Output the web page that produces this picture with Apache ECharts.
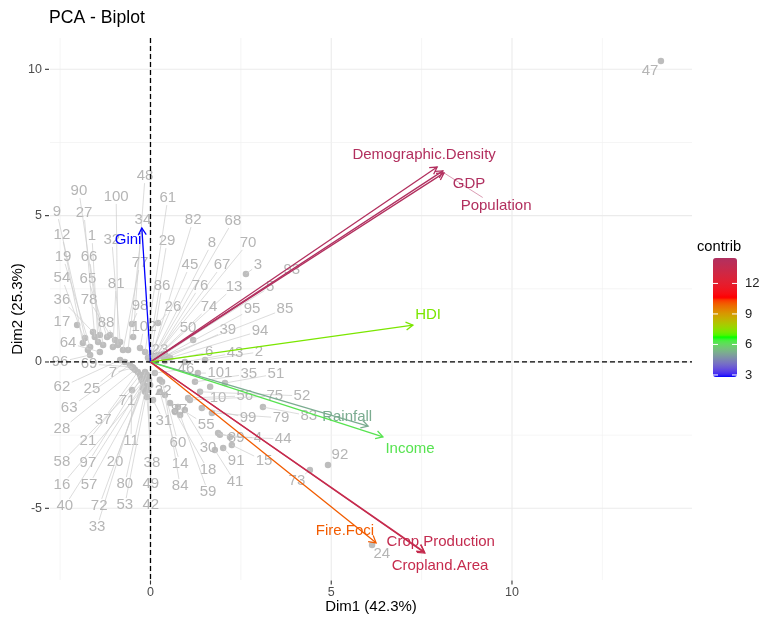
<!DOCTYPE html>
<html><head><meta charset="utf-8">
<script src="https://cdn.jsdelivr.net/npm/echarts@6/dist/echarts.min.js"></script>
<style>html,body{margin:0;padding:0;background:#fff}#c{width:770px;height:617px}</style>
</head><body><div id="c"></div>
<script>
// ---------- data ----------
const indIds = [1,2,3,4,5,6,7,8,9,10,11,12,13,14,15,16,17,18,19,20,21,22,23,24,25,26,27,28,29,30,
31,32,33,34,35,36,37,38,39,40,41,42,43,44,45,46,47,48,49,50,51,52,53,54,55,56,57,58,59,60,
61,62,63,64,65,66,67,68,69,70,71,72,73,74,75,76,77,78,79,80,81,82,83,84,85,86,87,88,89,90,
91,92,93,94,95,96,97,98,99,100,101,102];
const indDim1 = [
-1.45, 1.51, 2.64, 1.92, 0.32, 0.40, -0.48, 0.04, -1.81, 1.65,
-0.51, -1.87, 0.18, 0.26, 2.25, -0.15, -2.03, 0.68, -1.67, -0.18,
-0.29, 0.26, 0.12, 6.13, -0.71, 0.21, -1.54, -0.43, -0.07, 0.95,
0.07, -0.84, -0.15, -0.62, 1.23, -1.59, -0.35, -0.10, 0.48, -0.12,
1.78, -0.01, 0.95, 2.20, -0.01, 0.12, 14.12, -0.48, -0.07, 1.18,
2.06, 1.37, -0.04, -1.73, 0.76, 1.04, -0.21, -0.24, 0.82, 0.32,
-0.15, -0.84, -0.57, -1.40, -1.20, -1.31, 0.10, 0.07, -0.51, 0.12,
-0.21, -0.10, 4.41, 0.21, 1.09, 0.15, -0.76, -1.12, 1.70, -0.15,
-1.04, 0.04, 3.11, 0.40, 0.40, -0.01, 0.54, -0.98, 1.87, -1.40,
2.01, 4.91, 0.40, 0.54, 0.35, -1.67, -0.26, -0.51, 1.42, -0.90,
1.31, -0.29];
const indDim2 = [
0.68, 0.07, 3.01, -2.49, 0.24, 0.03, -0.20, 0.10, 0.82, -0.85,
-0.96, 0.65, 0.17, -1.02, -2.84, -0.82, 1.26, -1.71, 0.51, -0.79,
-0.44, -0.61, 0.07, -6.25, 0.00, 1.33, 0.85, -0.27, 0.14, -1.64,
-1.30, 0.68, -0.34, 0.41, -0.68, 1.02, -0.34, -1.20, 0.17, -0.55,
-3.01, -0.79, 0.00, -2.56, 0.17, -0.38, 10.28, 0.85, -0.96, 0.75,
-0.72, -1.02, -0.61, 0.41, -1.54, -1.23, -0.89, -0.61, -1.81, -0.68,
0.34, 0.07, -0.10, 0.34, 0.85, 0.58, 0.14, 0.14, -0.17, 0.17,
-0.68, -0.44, -3.69, 0.24, -1.30, 0.20, 0.41, 0.92, -1.74, -1.02,
0.51, 0.20, -1.54, -1.13, 0.20, 0.07, -1.40, 0.75, -2.43, 0.92,
-2.94, -3.52, 0.27, 0.14, 0.17, 0.24, -0.55, 1.30, -1.57, 0.58,
-0.38, 0.48];
// repelled label anchor positions (data units)
const labDim1 = [
-1.62, 3.00, 2.97, 2.97, 3.31, 1.62, -1.04, 1.70, -2.59, 1.87,
-0.54, -2.45, 2.31, 0.82, 3.14, -2.45, -2.45, 1.59, -2.42, -0.98,
-1.73, 0.35, 0.26, 6.40, -1.62, 0.62, -1.84, -2.45, 0.46, 1.59,
0.37, -1.07, -1.48, -0.21, 2.72, -2.45, -1.31, 0.04, 2.14, -2.37,
2.34, 0.01, 2.34, 3.67, 1.09, 0.98, 13.82, -0.15, 0.01, 1.04,
3.47, 4.19, -0.71, -2.45, 1.54, 2.61, -1.70, -2.45, 1.59, 0.76,
0.48, -2.45, -2.25, -2.28, -1.73, -1.70, 1.98, 2.28, -1.70, 2.70,
-0.65, -1.42, 4.05, 1.62, 3.44, 1.37, -0.29, -1.70, 3.61, -0.71,
-0.95, 1.18, 4.38, 0.82, 3.72, 0.32, 0.79, -1.23, 2.37, -1.98,
2.37, 5.24, 3.91, 3.03, 2.81, -2.50, -1.73, -0.29, 2.70, -0.95,
1.92, -0.18];
const labDim2 = [
4.30, 0.34, 3.31, -2.60, 2.56, 0.34, -0.38, 4.07, 5.12, -1.23,
-2.70, 4.34, 2.56, -3.48, -3.38, -4.20, 1.37, -3.69, 3.59, -3.42,
-2.70, -0.99, 0.41, -6.56, -0.92, 1.88, 5.09, -2.29, 4.13, -2.94,
-2.02, 4.17, -5.64, 4.85, -0.41, 2.12, -1.98, -3.45, 1.09, -4.92,
-4.10, -4.89, 0.31, -2.63, 3.31, -0.24, 9.94, 6.35, -4.17, 1.16,
-0.41, -1.16, -4.89, 2.87, -2.15, -1.16, -4.20, -3.42, -4.44, -2.77,
5.60, -0.85, -1.57, 0.65, 2.84, 3.59, 3.31, 4.82, -0.07, 4.07,
-1.33, -4.92, -4.07, 1.88, -1.16, 2.60, 3.38, 2.12, -1.91, -4.17,
2.66, 4.85, -1.84, -4.24, 1.81, 2.60, -1.64, 1.33, -2.60, 5.84,
-3.38, -3.18, 3.14, 1.06, 1.81, 0.00, -3.45, 1.91, -1.91, 5.64,
-0.38, 1.20];

const varNames   = ['Demographic.Density','GDP','Population','HDI','Gini','Rainfall','Income','Fire.Foci','Crop.Production','Cropland.Area'];
const varDim1    = [7.93, 8.09, 8.12, 7.26, -0.24, 6.02, 6.43, 6.24, 7.59, 7.57];
const varDim2    = [6.66, 6.53, 6.46, 1.26, 4.58, -2.19, -2.56, -6.18, -6.53, -6.49];
const varContrib = [14.4, 14.5, 14.4, 7.3, 2.8, 5.2, 6.2, 10.0, 13.6, 13.5];
const varLabDim1 = [7.57, 8.81, 9.56, 7.68, -0.62, 5.44, 7.18, 5.38, 8.03, 8.01];
const varLabDim2 = [7.07, 6.08, 5.33, 1.61, 4.17, -1.88, -2.97, -5.77, -6.15, -6.97];

const xTicks = [0, 5, 10];
const yTicks = [-5, 0, 5, 10];
const xMinorGrid = [-2.5, 2.5, 7.5, 12.5];
const yMinorGrid = [-2.5, 2.5, 7.5];
const legendTicks = [3, 6, 9, 12];
const contribMin = 2.8, contribMax = 14.5;

// ---------- styling / layout ----------
const FONT = '"Liberation Sans", Arial, sans-serif';
const gradientAnchors = ['#0000FF', '#00FF00', '#FF0000', '#B03060'];
const LEG = {left: 713, top: 258, w: 24, h: 119};

// Lab interpolation (like ggplot2 gradientn)
function lin(c){c/=255;return c<=0.04045?c/12.92:Math.pow((c+0.055)/1.055,2.4);}
function gam(c){const v=c<=0.0031308?12.92*c:1.055*Math.pow(c,1/2.4)-0.055;return Math.max(0,Math.min(255,Math.round(v*255)));}
function fL(t){return t>0.008856?Math.cbrt(t):7.787*t+16/116;}
function fInv(t){const t3=t*t*t;return t3>0.008856?t3:(t-16/116)/7.787;}
const Xn=0.95047,Zn=1.08883;
function hex2lab(h){
  const r=lin(parseInt(h.slice(1,3),16)),g=lin(parseInt(h.slice(3,5),16)),b=lin(parseInt(h.slice(5,7),16));
  const X=(0.4124564*r+0.3575761*g+0.1804375*b)/Xn, Y=(0.2126729*r+0.7151522*g+0.0721750*b), Z=(0.0193339*r+0.1191920*g+0.9503041*b)/Zn;
  const fx=fL(X),fy=fL(Y),fz=fL(Z);
  return [116*fy-16,500*(fx-fy),200*(fy-fz)];
}
function lab2rgb(l){
  const fy=(l[0]+16)/116, fx=fy+l[1]/500, fz=fy-l[2]/200;
  const X=fInv(fx)*Xn, Y=fInv(fy), Z=fInv(fz)*Zn;
  const R=3.2404542*X-1.5371385*Y-0.4985314*Z, G=-0.9692660*X+1.8760108*Y+0.0415560*Z, B=0.0556434*X-0.2040259*Y+1.0572252*Z;
  return 'rgb('+gam(R)+','+gam(G)+','+gam(B)+')';
}
const labs = gradientAnchors.map(hex2lab);
const rampColors = [];
const NSTEP = 60;
for (let i = 0; i <= NSTEP; i++) {
  const t = i / NSTEP * (labs.length - 1);
  const k = Math.min(Math.floor(t), labs.length - 2), f = t - k;
  const a = labs[k], b = labs[k+1];
  rampColors.push(lab2rgb([a[0]+(b[0]-a[0])*f, a[1]+(b[1]-a[1])*f, a[2]+(b[2]-a[2])*f]));
}

const mctx = document.createElement('canvas').getContext('2d');
function textW(s, size){ mctx.font = size + 'px ' + FONT; return mctx.measureText(s).width; }
function clipSeg(p, l, hw, hh, thr){
  const dx = p[0]-l[0], dy = p[1]-l[1];
  const t = Math.min(dx ? hw/Math.abs(dx) : Infinity, dy ? hh/Math.abs(dy) : Infinity);
  if (t >= 1) return null;
  const e = [l[0]+dx*t, l[1]+dy*t];
  if (Math.hypot(p[0]-e[0], p[1]-e[1]) < thr) return null;
  return {x1:p[0], y1:p[1], x2:e[0], y2:e[1]};
}

const chart = echarts.init(document.getElementById('c'), null, {renderer:'canvas'});

function gridV(major){
  return function(params, api){
    const cs = params.coordSys, x = api.coord([api.value(0), 0])[0];
    return {type:'line', silent:true, shape:{x1:x, y1:cs.y, x2:x, y2:cs.y+cs.height},
      style:{stroke: major ? '#ebebeb' : '#f1f1f1', lineWidth: major ? 1.1 : 0.7}};
  };
}
function gridH(major){
  return function(params, api){
    const cs = params.coordSys, y = api.coord([0, api.value(1)])[1];
    return {type:'line', silent:true, shape:{x1:cs.x, y1:y, x2:cs.x+cs.width, y2:y},
      style:{stroke: major ? '#ebebeb' : '#f1f1f1', lineWidth: major ? 1.1 : 0.7}};
  };
}
const TICK_STYLE = {stroke:'#333', lineWidth:1.1};
function tickX(params, api){
  const cs = params.coordSys, x = api.coord([api.value(0), 0])[0], y0 = cs.y + cs.height;
  return {type:'line', silent:true, shape:{x1:x, y1:y0+0.5, x2:x, y2:y0+4.5}, style:TICK_STYLE};
}
function tickY(params, api){
  const cs = params.coordSys, y = api.coord([0, api.value(1)])[1];
  return {type:'line', silent:true, shape:{x1:cs.x-5, y1:y, x2:cs.x-1, y2:y}, style:TICK_STYLE};
}

const IND_FS = 15, VAR_FS = 15;

const legendGraphics = [
  {type:'text', left: 697, top: 239, style:{text:'contrib', font: '14.7px ' + FONT, fill:'#000'}}
];
legendTicks.forEach(v => {
  const y = LEG.top + (contribMax - v) / (contribMax - contribMin) * LEG.h;
  legendGraphics.push({type:'line', shape:{x1:LEG.left, y1:y, x2:LEG.left+5, y2:y}, style:{stroke:'#fff', lineWidth:1}, z:100});
  legendGraphics.push({type:'line', shape:{x1:LEG.left+LEG.w-5, y1:y, x2:LEG.left+LEG.w, y2:y}, style:{stroke:'#fff', lineWidth:1}, z:100});
  legendGraphics.push({type:'text', x: LEG.left+LEG.w+8, y: y, style:{text:String(v), font:'13px ' + FONT, fill:'#222', verticalAlign:'middle', align:'left'}, z:100});
});

const option = {
  animation: false,
  backgroundColor: '#fff',
  title: {text:'PCA - Biplot', left: 49, top: 9, padding: 0,
    textStyle:{fontFamily: FONT, fontSize: 17.6, fontWeight:'normal', color:'#000'}},
  grid: {left: 50, right: 78, top: 38, bottom: 37, containLabel:false, outerBoundsMode:'none'},
  xAxis: {type:'value', min:-2.78, max:14.98, name:'Dim1 (42.3%)', nameLocation:'middle', nameGap: 19, nameMoveOverlap:false,
    nameTextStyle:{fontFamily:FONT, fontSize:15, color:'#000'},
    axisLine:{show:false}, splitLine:{show:false}, axisTick:{show:false},
    axisLabel:{customValues: xTicks, margin:6, fontFamily:FONT, fontSize:12.5, color:'#4d4d4d'}},
  yAxis: {type:'value', min:-7.45, max:11.07, name:'Dim2 (25.3%)', nameLocation:'middle', nameGap: 25, nameMoveOverlap:false,
    nameTextStyle:{fontFamily:FONT, fontSize:15, color:'#000'},
    axisLine:{show:false}, splitLine:{show:false}, axisTick:{show:false},
    axisLabel:{customValues: yTicks, margin:8, fontFamily:FONT, fontSize:12.5, color:'#4d4d4d'}},
  visualMap: {type:'continuous', min: contribMin, max: contribMax, dimension: 2, seriesIndex: 7,
    left: LEG.left, top: LEG.top, itemWidth: LEG.w, itemHeight: LEG.h, padding: 0,
    calculable:false, hoverLink:false, inRange:{color: rampColors}},
  graphic: legendGraphics,
  series: [
    {type:'custom', silent:true, z:1, renderItem: gridV(true), data: xTicks.map(v => [v, 0])},
    {type:'custom', silent:true, z:1, renderItem: gridV(false), data: xMinorGrid.map(v => [v, 0])},
    {type:'custom', silent:true, z:1, renderItem: gridH(true), data: yTicks.map(v => [0, v])},
    {type:'custom', silent:true, z:1, renderItem: gridH(false), data: yMinorGrid.map(v => [0, v])},
    {type:'scatter', silent:true, z:2, symbolSize:6.5, itemStyle:{color:'#bdbdbd', opacity:1},
      data: indDim1.map((x, i) => [x, indDim2[i]])},
    {type:'custom', silent:true, z:3,
      data: indDim1.map((x, i) => [x, indDim2[i], labDim1[i], labDim2[i], indIds[i]]),
      renderItem: function(params, api){
        const p = api.coord([api.value(0), api.value(1)]);
        const l = api.coord([api.value(2), api.value(3)]);
        const txt = String(api.value(4));
        const w = textW(txt, IND_FS);
        const seg = clipSeg(p, l, w/2 + 1.5, 7, 6);
        const ch = [];
        if (seg) ch.push({type:'line', shape:seg, style:{stroke:'#cdcdcd', lineWidth:0.7}});
        ch.push({type:'text', style:{text:txt, x:l[0], y:l[1], fill:'#b5b5b5', font: IND_FS + 'px ' + FONT, align:'center', verticalAlign:'middle'}});
        return {type:'group', children: ch};
      }},
    {type:'custom', silent:true, z:4, data:[[0, 0]],
      renderItem: function(params, api){
        const cs = params.coordSys, o = api.coord([0, 0]);
        const st = {stroke:'#000', lineWidth:1.3, lineDash:[5, 3]};
        return {type:'group', children:[
          {type:'line', shape:{x1:cs.x, y1:o[1], x2:cs.x+cs.width, y2:o[1]}, style:st},
          {type:'line', shape:{x1:o[0], y1:cs.y, x2:o[0], y2:cs.y+cs.height}, style:st}
        ]};
      }},
    {type:'custom', silent:true, z:5,
      data: varDim1.map((x, i) => [x, varDim2[i], varContrib[i], varLabDim1[i], varLabDim2[i]]),
      renderItem: function(params, api){
        const o = api.coord([0, 0]);
        const t = api.coord([api.value(0), api.value(1)]);
        const c = api.visual('color');
        const ang = Math.atan2(t[1]-o[1], t[0]-o[0]);
        const L = 8, A = Math.PI/6;
        const h1 = [t[0]-L*Math.cos(ang-A), t[1]-L*Math.sin(ang-A)];
        const h2 = [t[0]-L*Math.cos(ang+A), t[1]-L*Math.sin(ang+A)];
        const lp = api.coord([api.value(3), api.value(4)]);
        const name = varNames[params.dataIndex];
        const w = textW(name, VAR_FS);
        const seg = clipSeg(t, lp, w/2 + 2, 8.5, 12);
        const ch = [];
        if (seg) ch.push({type:'line', shape:seg, style:{stroke:c, lineWidth:0.6, opacity:0.8}});
        ch.push({type:'line', shape:{x1:o[0], y1:o[1], x2:t[0], y2:t[1]}, style:{stroke:c, lineWidth:1.3}});
        ch.push({type:'polyline', shape:{points:[h1, t, h2]}, style:{stroke:c, lineWidth:1.3, fill:null}});
        ch.push({type:'text', style:{text:name, x:lp[0], y:lp[1], fill:c, font: VAR_FS + 'px ' + FONT, align:'center', verticalAlign:'middle'}});
        return {type:'group', children: ch};
      }},
    {type:'custom', silent:true, z:6, renderItem: tickX, data: xTicks.map(v => [v, 0])},
    {type:'custom', silent:true, z:6, renderItem: tickY, data: yTicks.map(v => [0, v])}
  ]
};
chart.setOption(option);
</script></body></html>
